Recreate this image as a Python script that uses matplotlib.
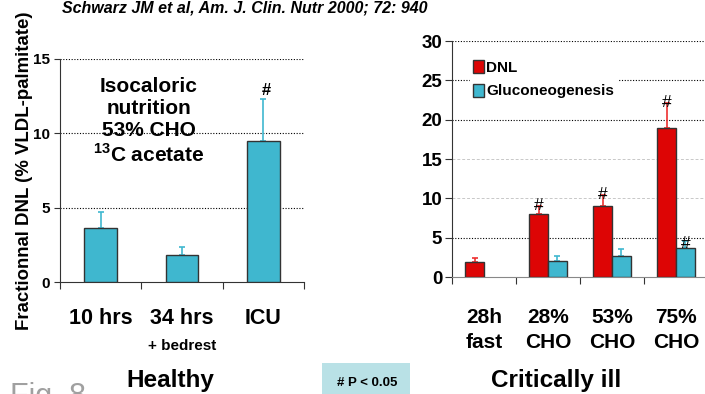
import numpy as np
import matplotlib
matplotlib.use("Agg")
import matplotlib.pyplot as plt
from matplotlib.patches import Rectangle

# ---------------- data ----------------
left_labels = ['10 hrs', '34 hrs', 'ICU']
left_vals = [3.6, 1.8, 9.5]
left_err = [1.1, 0.55, 2.8]
left_sig = [False, False, True]

right_labels = ['28h\nfast', '28%\nCHO', '53%\nCHO', '75%\nCHO']
dnl_vals = [1.9, 8.0, 9.0, 19.0]
dnl_err = [0.5, 1.0, 1.4, 3.1]
dnl_sig = [False, True, True, True]
gluc_vals = [np.nan, 2.0, 2.7, 3.7]
gluc_err = [np.nan, 0.7, 0.8, 0.9]
gluc_sig = [False, False, False, True]

left_yticks = [0, 5, 10, 15]
right_yticks = [0, 5, 10, 15, 20, 25, 30]

CYAN = '#3fb7cf'
RED = '#dd0505'
EDGE = '#333333'

SANS = ['Liberation Sans', 'DejaVu Sans']
plt.rcParams['font.family'] = SANS

fig = plt.figure(figsize=(7.05, 3.94), dpi=100)

# ---------------- left panel ----------------
axL = fig.add_axes([60/705, 1-282/394, 244/705, 223/394])
xl = np.arange(len(left_labels))
axL.bar(xl, left_vals, width=0.4, color=CYAN, edgecolor=EDGE, linewidth=1.0, zorder=3)
axL.errorbar(xl, left_vals, yerr=[np.zeros(len(left_err)), left_err], fmt='none',
             ecolor=CYAN, elinewidth=1.2, capsize=2, capthick=1.2, zorder=2)
for x, v, e, s in zip(xl, left_vals, left_err, left_sig):
    if s:
        axL.text(x + 0.04, v + e + 0.05, '#', ha='center', va='bottom', fontsize=12,
                 fontweight='bold')
axL.set_xlim(-0.5, len(left_labels) - 0.5)
axL.set_ylim(0, 15)
for g in [5, 10, 15]:
    axL.axhline(g, color='black', linestyle=(0, (1, 1.5)), linewidth=0.8, zorder=1)
axL.set_yticks(left_yticks)
axL.set_yticklabels([str(t) for t in left_yticks], fontsize=11, fontweight='bold')
axL.set_xticks(np.arange(len(left_labels) + 1) - 0.5)
axL.set_xticklabels([])
axL.set_xticks(xl, minor=True)
axL.set_xticklabels(left_labels, minor=True, fontsize=15.5, fontweight='bold')
axL.tick_params(axis='x', which='major', length=5, direction='out', color=EDGE)
axL.tick_params(axis='x', which='minor', length=0, pad=19)
axL.tick_params(axis='y', length=4, color=EDGE, pad=3)
for sp in ['top', 'right']:
    axL.spines[sp].set_visible(False)
axL.spines['left'].set_color(EDGE)
axL.spines['bottom'].set_color(EDGE)
axL.set_ylabel('Fractionnal DNL (% VLDL-palmitate)', fontsize=13.4, fontweight='bold')
axL.yaxis.set_label_coords(-0.11, 0.5)

for yy, txt in [(86, 'Isocaloric'), (108, 'nutrition'), (131, '53% CHO'),
                (155, r'$^{\mathregular{13}}$C acetate')]:
    fig.text(149/705, 1-yy/394, txt, ha='center', va='center', fontsize=15, fontweight='bold')

# ---------------- right panel ----------------
axR = fig.add_axes([452/705, 1-277/394, 256/705, 236/394])
xr = np.arange(len(right_labels))
w = 0.29
off = 0.145
axR.bar(xr - off, dnl_vals, width=w, color=RED, edgecolor=EDGE, linewidth=1.0, zorder=3, label='DNL')
axR.errorbar(xr - off, dnl_vals, yerr=[np.zeros(len(dnl_err)), dnl_err], fmt='none',
             ecolor='#ee3030', elinewidth=1.2, capsize=2, capthick=1.2, zorder=2)
gv = np.array(gluc_vals, dtype=float)
ge = np.array(gluc_err, dtype=float)
mask = ~np.isnan(gv)
axR.bar(xr[mask] + off, gv[mask], width=w, color=CYAN, edgecolor=EDGE, linewidth=1.0, zorder=3,
        label='Gluconeogenesis')
axR.errorbar(xr[mask] + off, gv[mask], yerr=[np.zeros(mask.sum()), ge[mask]], fmt='none',
             ecolor=CYAN, elinewidth=1.2, capsize=2, capthick=1.2, zorder=2)
for x, v, e, s in zip(xr, dnl_vals, dnl_err, dnl_sig):
    if s:
        axR.text(x - off, v + e - 0.9, '#', ha='center', va='bottom', fontsize=12.5, zorder=5)
for x, v, e, s in zip(xr, gv, ge, gluc_sig):
    if s:
        axR.text(x + off, v + e - 1.3, '#', ha='center', va='bottom', fontsize=12.5, zorder=5)

axR.set_xlim(-0.5, len(right_labels) - 0.5)
axR.set_ylim(0, 30)
for g in [5, 20, 25, 30]:
    axR.axhline(g, color='black', linestyle=(0, (1, 1.5)), linewidth=0.8, zorder=1)
for g in [10, 15]:
    axR.axhline(g, color='#c8c8c8', linestyle=(0, (3, 2)), linewidth=0.7, zorder=1)
axR.set_yticks(right_yticks)
axR.set_yticklabels([str(t) for t in right_yticks], fontsize=13.5, fontweight='bold')
axR.set_xticks(np.arange(len(right_labels) + 1) - 0.5)
axR.set_xticklabels([])
axR.set_xticks(xr, minor=True)
axR.set_xticklabels(right_labels, minor=True, fontsize=15, fontweight='bold', linespacing=1.45)
axR.tick_params(axis='x', which='major', length=5, direction='out', color=EDGE)
axR.tick_params(axis='x', which='minor', length=0, pad=22)
axR.tick_params(axis='y', length=5, color=EDGE, pad=2)
for sp in ['top', 'right']:
    axR.spines[sp].set_visible(False)
axR.spines['left'].set_color(EDGE)
axR.spines['bottom'].set_color('#888888')

leg = axR.legend(loc='upper left', bbox_to_anchor=(470/705, 1-57/394), bbox_transform=fig.transFigure,
                 frameon=True, fancybox=False, edgecolor='white', framealpha=1.0,
                 handlelength=0.7, handleheight=0.9, handletextpad=0.15, labelspacing=0.6,
                 borderpad=0.2, borderaxespad=0,
                 prop={'weight': 'bold', 'size': 11})
leg.set_zorder(4)

# ---------------- figure texts ----------------
fig.text(245/705, 1-8/394, 'Schwarz JM et al, Am. J. Clin. Nutr 2000; 72: 940', ha='center', va='center',
         fontsize=11.5, fontweight='bold', style='italic')
fig.text(170/705, 1-381/394, 'Healthy', ha='center', va='center', fontsize=17.5, fontweight='bold')
fig.text(556/705, 1-381/394, 'Critically ill', ha='center', va='center', fontsize=17.5, fontweight='bold')
fig.text(182/705, 1-346/394, '+ bedrest', ha='center', va='center', fontsize=11, fontweight='bold')
fig.patches.append(Rectangle((322/705, 0), 88/705, 31/394, transform=fig.transFigure,
                             facecolor='#b9e1e6', edgecolor='none', zorder=0))
fig.text(367/705, 1-383/394, '# P < 0.05', ha='center', va='center', fontsize=9.5, fontweight='bold')
fig.text(10/705, 1-382/394, 'Fig. 8', ha='left', va='top', fontsize=22, color='#a0a0a0')

fig.savefig('out.png', dpi=100)
